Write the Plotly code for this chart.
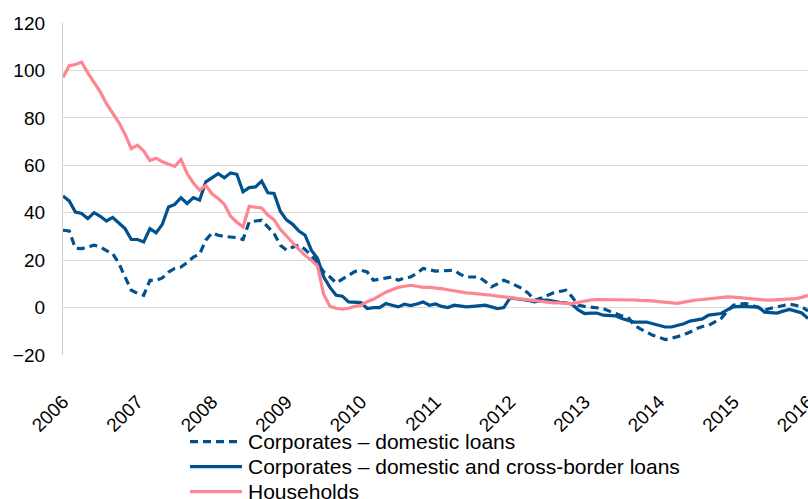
import plotly.graph_objects as go

years = ["2006", "2007", "2008", "2009", "2010", "2011", "2012", "2013", "2014", "2015", "2016"]

households = [
    97, 102, 102.5, 103.5, 99, 95, 91, 86, 82, 78, 73, 67, 68.5, 66, 62, 63, 61.5, 60.5, 59.5, 62.5,
    56.5, 52.5, 49.5, 51.5, 48, 46, 43.5, 38.5, 36, 34, 42.7, 42.3, 42, 39, 37, 33, 30, 27, 24.5, 22,
    20, 17.5, 5.5, 0.5, -0.3, -0.7, -0.3, 0.5, 1, 2.5, 3.5, 5, 6.5, 7.5, 8.5, 9, 9.4, 9, 8.5, 8.5,
    8.4, 8, 7.5, 7, 6.5, 6.2, 6, 5.8, 5.5, 5.2, 4.8, 4.5, 4.2, 4, 3.6, 3.3, 3, 2.5, 2.3, 2,
    2, 1.8, 1.7, 2.2, 2.8, 3.2, 3.4, 3.4, 3.4, 3.5, 3.4, 3.4, 3.2, 3, 3, 2.8, 2.5, 2.3, 2, 1.8,
    2.3, 2.8, 3.2, 3.4, 3.7, 4, 4.4, 4.5, 4.4, 4.1, 3.8, 3.6, 3.4, 3.2, 3.1, 3.2, 3.4, 3.5, 3.8, 4.3,
    5.2,
]

corp_total = [
    47, 45, 40.3, 39.7, 37.5, 40, 38.5, 36.5, 38, 35.7, 33.3, 28.7, 28.7, 27.7, 33.3, 31.5, 35.1, 42.4, 43.5, 46.3,
    43.9, 46.4, 45.3, 53, 54.7, 56.5, 54.7, 56.8, 56.2, 48.8, 50.6, 50.9, 53.3, 48.4, 48.1, 40.6, 37, 35.1, 32.3, 30.5,
    24.2, 20.7, 12.9, 8.5, 5.2, 4.8, 2.4, 2.2, 2.1, -0.4, 0, 0, 1.7, 1, 0.3, 1.4, 0.8, 1.5, 2.4, 1,
    1.5, 0.5, 0, 1, 0.5, 0.3, 0.5, 0.8, 1, 0.3, -0.4, 0, 4.1, 3.8, 3.5, 3, 2.4, 3, 3.1, 2.5,
    2.2, 2, 1.4, -1, -2.5, -2.3, -2.3, -3.2, -3.2, -3.5, -4.6, -5.5, -6.1, -6.1, -6.1, -6.8, -7.5, -8.2, -8.2, -7.5,
    -6.8, -5.7, -5.1, -4.8, -3.2, -2.8, -2.5, -1, 0.3, 0.5, 0.5, 0.3, 0.2, -1.9, -2, -2.3, -1.5, -0.8, -1.5, -2.3,
    -4.6,
]

corp_domestic = [
    32.6, 32.3, 25, 24.9, 25.5, 26.3, 25.6, 24, 22.8, 18.6, 12.9, 7.3, 6, 5.2, 11.5, 11.5, 12.5, 15, 16.5, 17.1,
    19, 21.3, 22.5, 28.4, 31.5, 30.5, 30, 29.8, 29.5, 28.7, 36.1, 36.5, 36.8, 34, 31.2, 26.3, 24.2, 25.5, 26.3, 24.5,
    22, 18.6, 15, 12.9, 10.4, 12, 13.6, 15.2, 15.7, 15, 11.5, 12, 12.2, 12.9, 11.5, 12.5, 12.9, 14.5, 16.5, 16,
    15.4, 15.5, 15.7, 15.7, 14, 12.9, 12.9, 12.9, 11, 8.7, 10, 11.5, 10.5, 9.4, 8, 5.9, 3.1, 4, 5.2, 6.2,
    6.8, 7.3, 4.5, 1, 0.5, 0.3, 0, -0.4, -1.5, -2.5, -3.5, -4, -7.5, -9, -10.3, -11.7, -12.5, -13.5, -13, -12.4,
    -11.5, -10.3, -8.9, -8, -7.5, -6, -4.6, -1.5, 1, 1.5, 1.7, 1, 0, -1.1, -0.3, 0.3, 1, 1.4, 1, 0.3,
    -1.4,
]

series_names = [
    "Corporates – domestic loans",
    "Corporates – domestic and cross-border loans",
    "Households",
]

months = list(range(len(households)))
tick_positions = [12 * k for k in range(len(years))]

BLUE = "#00518e"
PINK = "#ff8591"
FONT = "Liberation Sans, Arial, sans-serif"
styles = [
    dict(color=BLUE, width=3.2, dash="8px,5px"),
    dict(color=BLUE, width=3.2),
    dict(color=PINK, width=3.2),
]
series_values = [corp_domestic, corp_total, households]

fig = go.Figure()
for name, vals, st in zip(series_names, series_values, styles):
    fig.add_trace(go.Scatter(x=months, y=vals, mode="lines", name=name,
                             line=st, showlegend=False))

# hand-built legend below the plot (paper coordinates)
PLOT_L, PLOT_W, PLOT_B, PLOT_H = 63, 745, 355, 332
row_y = [441.7, 466.7, 491.7]
for name, st, py in zip(series_names, styles, row_y):
    yp = (PLOT_B - py) / PLOT_H
    fig.add_shape(type="line", xref="paper", yref="paper",
                  x0=(190 - PLOT_L) / PLOT_W, x1=(242 - PLOT_L) / PLOT_W, y0=yp, y1=yp,
                  line=st)
    fig.add_annotation(text=name, xref="paper", yref="paper",
                       x=(246 - PLOT_L) / PLOT_W, y=yp, xanchor="left", yanchor="middle",
                       showarrow=False, font=dict(family=FONT, size=21, color="#000000"))

fig.update_layout(
    width=808, height=499,
    margin=dict(l=63, r=0, t=23, b=144),
    paper_bgcolor="white", plot_bgcolor="white",
    font=dict(family=FONT, size=19, color="#000000"),
    showlegend=False,
    xaxis=dict(
        range=[0, 120], tickmode="array", tickvals=tick_positions, ticktext=years,
        tickangle=-45, showgrid=False, zeroline=False, showline=False,
        ticks="", ticklabelstandoff=31, automargin=False, fixedrange=True,
        ticklabeloverflow="allow",
    ),
    yaxis=dict(
        range=[-20, 120], tickmode="array", tickvals=list(range(-20, 121, 20)),
        showgrid=True, gridcolor="#d9d9d9", gridwidth=1.3, zeroline=False,
        showline=True, linecolor="#d0d0d0", linewidth=1.3,
        ticks="", ticklabelstandoff=13, automargin=False,
    ),
)

fig.write_html("out.html", config={"displayModeBar": False},
               post_script="document.body.style.margin='0';")
